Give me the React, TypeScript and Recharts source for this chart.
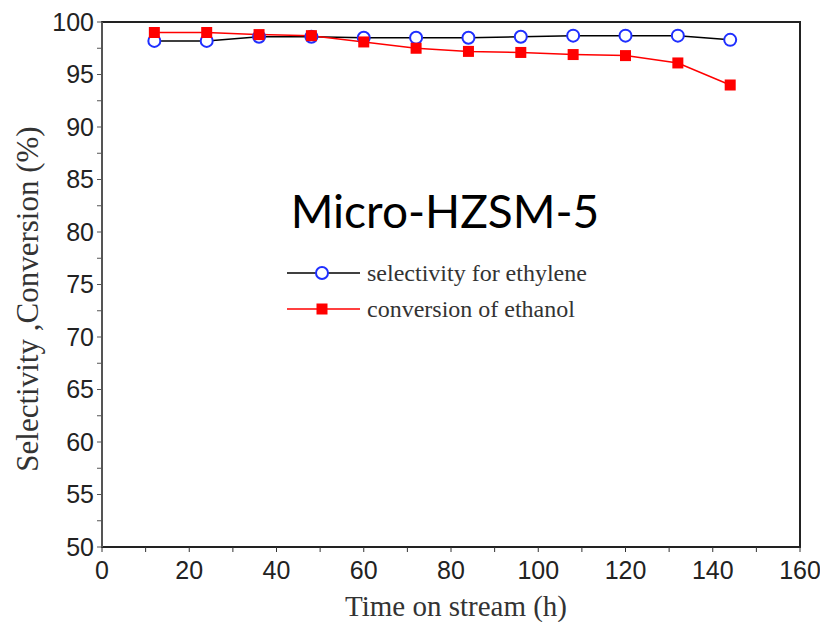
import React from 'react';
import { LineChart, Line, XAxis, YAxis, ReferenceArea } from 'recharts';

// time on stream (h)
const hours = [12, 24, 36, 48, 60, 72, 84, 96, 108, 120, 132, 144];
// selectivity for ethylene (%)
const selectivity = [98.2, 98.2, 98.6, 98.6, 98.5, 98.5, 98.5, 98.6, 98.7, 98.7, 98.7, 98.3];
// conversion of ethanol (%)
const conversion = [99.0, 99.0, 98.8, 98.7, 98.1, 97.5, 97.2, 97.1, 96.9, 96.8, 96.1, 94.0];

const xTicks = [0, 10, 20, 30, 40, 50, 60, 70, 80, 90, 100, 110, 120, 130, 140, 150, 160];
const yTicks = [50, 52.5, 55, 57.5, 60, 62.5, 65, 67.5, 70, 72.5, 75, 77.5, 80, 82.5, 85, 87.5, 90, 92.5, 95, 97.5, 100];

const data = hours.map((h, i) => ({ h, sel: selectivity[i], conv: conversion[i] }));

const tickFont = { fontFamily: 'Liberation Sans, Arial, sans-serif', fontSize: 25, fill: '#222' };
const serif = 'Liberation Serif, Times New Roman, serif';

const SquareDot = (props: any) => {
  const { cx, cy, index } = props;
  return <rect key={`sq-${index}`} x={cx - 5.5} y={cy - 5.5} width={11} height={11} fill="#ff0000" />;
};

// legend drawn by hand, placed inside the plot
const LegendBox = () => (
  <svg width={340} height={70} style={{ display: 'block' }}>
    <line x1={0} y1={12} x2={73} y2={12} stroke="#000" strokeWidth={1.5} />
    <circle cx={35} cy={12} r={6} fill="#fff" stroke="#1f2fff" strokeWidth={2} />
    <text x={80} y={20} fontFamily={serif} fontSize={24} fill="#333">selectivity for ethylene</text>
    <line x1={0} y1={48} x2={73} y2={48} stroke="#ff0000" strokeWidth={1.5} />
    <rect x={29.5} y={42.5} width={11} height={11} fill="#ff0000" />
    <text x={80} y={56} fontFamily={serif} fontSize={24} fill="#333">conversion of ethanol</text>
  </svg>
);

export default function App() {
  return (
    <div style={{ position: 'relative', width: 812, height: 614 }}>
      <LineChart width={812} height={606} data={data} margin={{ top: 14, right: 20, bottom: 12, left: 34 }}>
        <XAxis
          dataKey="h"
          type="number"
          domain={[0, 160]}
          ticks={xTicks}
          interval={0}
          tickFormatter={(v: number) => (v % 20 === 0 ? String(v) : '')}
          tick={tickFont}
          tickSize={5}
          tickMargin={9}
          height={55}
          axisLine={{ stroke: '#222', strokeWidth: 2 }}
          tickLine={{ stroke: '#333' }}
        />
        <YAxis
          type="number"
          domain={[50, 100]}
          ticks={yTicks}
          interval={0}
          tickFormatter={(v: number) => (v % 5 === 0 ? String(v) : '')}
          tick={tickFont}
          tickSize={5}
          tickMargin={3}
          width={60}
          axisLine={{ stroke: '#555', strokeWidth: 2 }}
          tickLine={{ stroke: '#555' }}
        />
        <ReferenceArea x1={0} x2={160} y1={50} y2={100} fill="none" stroke="#222" strokeWidth={2} ifOverflow="visible" />
        <Line
          dataKey="sel"
          stroke="#000"
          strokeWidth={1.5}
          dot={{ r: 6, fill: '#fff', stroke: '#1f2fff', strokeWidth: 2 }}
          isAnimationActive={false}
        />
        <Line
          dataKey="conv"
          stroke="#ff0000"
          strokeWidth={1.5}
          dot={SquareDot}
          isAnimationActive={false}
        />
      </LineChart>
      <div style={{ position: 'absolute', left: 279, top: 253 }}>
        <LegendBox />
      </div>
      <div
        style={{
          position: 'absolute',
          left: 20,
          top: 291,
          transform: 'translate(-50%, -50%) rotate(-90deg)',
          whiteSpace: 'nowrap',
          fontFamily: serif,
          fontSize: 31,
          color: '#333',
        }}
      >
        Selectivity ,Conversion (%)
      </div>
      <div
        style={{
          position: 'absolute',
          left: 448,
          top: 598,
          transform: 'translate(-50%, -50%)',
          whiteSpace: 'nowrap',
          fontFamily: serif,
          fontSize: 29,
          color: '#333',
        }}
      >
        Time on stream (h)
      </div>
      <div
        style={{
          position: 'absolute',
          left: 437,
          top: 202,
          transform: 'translate(-50%, -50%)',
          whiteSpace: 'nowrap',
          fontFamily: 'Lato, Open Sans, sans-serif',
          fontSize: 46,
          color: '#000',
        }}
      >
        Micro-HZSM-5
      </div>
    </div>
  );
}
